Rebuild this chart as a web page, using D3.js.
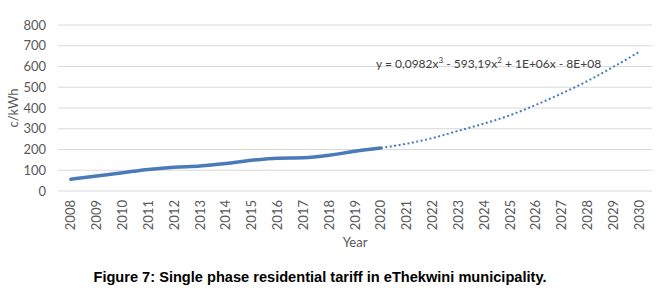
<!DOCTYPE html>
<html>
<head>
<meta charset="utf-8">
<script src="https://cdn.jsdelivr.net/npm/d3@7"></script>
<style>
  body { margin: 0; background: #fff; }
</style>
</head>
<body>
<div id="container"></div>
<script>
let years = ["2008","2009","2010","2011","2012","2013","2014","2015","2016","2017","2018","2019","2020",
             "2021","2022","2023","2024","2025","2026","2027","2028","2029","2030"];
let tariffYears = ["2008","2009","2010","2011","2012","2013","2014","2015","2016","2017","2018","2019","2020"];
let tariff = [57, 72, 88, 104, 115, 120, 132, 148, 158, 160, 172, 192, 207];
let trendYears = ["2020","2021","2022","2023","2024","2025","2026","2027","2028","2029","2030"];
let trend = [207, 228, 255, 290, 325, 365, 415, 470, 530, 598, 670];
let yTicks = [0, 100, 200, 300, 400, 500, 600, 700, 800];

let w = 665;
let h = 292;
let plotLeft = 58, plotRight = 652, plotTop = 25, plotBottom = 191;

let viz = d3.select("#container")
  .append("svg")
    .attr("width", w)
    .attr("height", h)
;

let xScale = d3.scaleBand().domain(years).range([plotLeft, plotRight]);
let yScale = d3.scaleLinear().domain([0, 800]).range([plotBottom, plotTop]);

// gridlines
viz.append("g")
  .selectAll("line")
  .data(yTicks)
  .enter()
  .append("line")
    .attr("x1", plotLeft)
    .attr("x2", plotRight)
    .attr("y1", d => yScale(d))
    .attr("y2", d => yScale(d))
    .attr("stroke", "#d9d9d9")
    .attr("stroke-width", 1)
;

let yAxis = d3.axisLeft(yScale).tickValues(yTicks).tickSize(0).tickPadding(12);
let yAxisGroup = viz.append("g")
    .attr("transform", "translate(" + plotLeft + ",0)")
    .call(yAxis)
;
yAxisGroup.select(".domain").remove();
yAxisGroup.selectAll("text")
    .attr("font-family", "Lato, 'Open Sans', sans-serif")
    .attr("font-size", 13)
    .attr("fill", "#595959");

let xAxis = d3.axisBottom(xScale).tickSize(0).tickPadding(0);
let xAxisGroup = viz.append("g")
    .attr("transform", "translate(0," + plotBottom + ")")
    .call(xAxis)
;
xAxisGroup.select(".domain").remove();
xAxisGroup.selectAll("text")
    .attr("font-family", "Lato, 'Open Sans', sans-serif")
    .attr("font-size", 13)
    .attr("fill", "#595959")
    .attr("transform", "rotate(-90)")
    .attr("text-anchor", "end")
    .attr("dy", "0.35em")
    .attr("x", -9)
    .attr("y", 0);

let getX = d => xScale(d.year) + xScale.bandwidth() / 2;
let getY = d => yScale(d.value);

let lineMaker = d3.line().x(getX).y(getY).curve(d3.curveMonotoneX);

let trendData = trendYears.map((y, i) => ({ year: y, value: trend[i] }));
viz.append("path")
    .datum(trendData)
    .attr("d", lineMaker)
    .attr("fill", "none")
    .attr("stroke", "#4a7ab8")
    .attr("stroke-width", 2)
    .attr("stroke-dasharray", "2,2.5")
;

let tariffData = tariffYears.map((y, i) => ({ year: y, value: tariff[i] }));
viz.append("path")
    .datum(tariffData)
    .attr("d", lineMaker)
    .attr("fill", "none")
    .attr("stroke", "#4a7ab8")
    .attr("stroke-width", 3.5)
    .attr("stroke-linecap", "round")
;

// trendline equation
let eq = viz.append("text")
    .attr("x", 376)
    .attr("y", 68)
    .attr("font-family", "Lato, 'Open Sans', sans-serif")
    .attr("font-size", 12)
    .attr("fill", "#404040");
eq.append("tspan").text("y = 0,0982x");
eq.append("tspan").attr("dy", -5).attr("font-size", 8).text("3");
eq.append("tspan").attr("dy", 5).text(" - 593,19x");
eq.append("tspan").attr("dy", -5).attr("font-size", 8).text("2");
eq.append("tspan").attr("dy", 5).text(" + 1E+06x - 8E+08");

// axis titles
viz.append("text")
    .attr("transform", "translate(18," + ((plotTop + plotBottom) / 2) + ") rotate(-90)")
    .attr("text-anchor", "middle")
    .attr("font-family", "Lato, 'Open Sans', sans-serif")
    .attr("font-size", 13)
    .attr("fill", "#595959")
    .text("c/kWh");

viz.append("text")
    .attr("x", (plotLeft + plotRight) / 2)
    .attr("y", 247)
    .attr("text-anchor", "middle")
    .attr("font-family", "Lato, 'Open Sans', sans-serif")
    .attr("font-size", 13)
    .attr("fill", "#595959")
    .text("Year");

// caption
viz.append("text")
    .attr("x", 320)
    .attr("y", 282)
    .attr("text-anchor", "middle")
    .attr("font-family", "'Liberation Sans', Arial, sans-serif")
    .attr("font-weight", "bold")
    .attr("font-size", 14.6)
    .attr("fill", "#000")
    .text("Figure 7: Single phase residential tariff in eThekwini municipality.");
</script>
</body>
</html>
